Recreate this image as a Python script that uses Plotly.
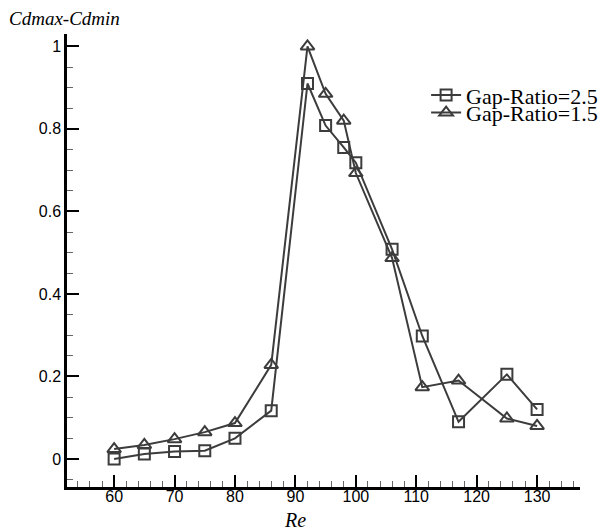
import plotly.graph_objects as go

re_vals = [60, 65, 70, 75, 80, 86, 92, 95, 98, 100, 106, 111, 117, 125, 130]
gap25 = [0.0, 0.012, 0.018, 0.02, 0.05, 0.117, 0.91, 0.808, 0.755, 0.718, 0.508, 0.298, 0.09, 0.205, 0.12]
gap15 = [0.024, 0.034, 0.048, 0.065, 0.087, 0.228, 1.0, 0.885, 0.82, 0.693, 0.487, 0.174, 0.19, 0.098, 0.08]
names = ["Gap-Ratio=2.5", "Gap-Ratio=1.5"]
x_ticks = [60, 70, 80, 90, 100, 110, 120, 130]
y_ticks = [0, 0.2, 0.4, 0.6, 0.8, 1]
y_tick_text = ["0", "0.2", "0.4", "0.6", "0.8", "1"]

col = "#3c3c3c"
fig = go.Figure()
fig.add_trace(go.Scatter(x=re_vals, y=gap25, name=names[0], mode="lines+markers", legend="legend",
                         line=dict(color=col, width=2),
                         marker=dict(symbol="square-open", size=11, color=col, line=dict(width=2))))
fig.add_trace(go.Scatter(x=re_vals, y=gap15, name=names[1], mode="lines+markers", legend="legend2",
                         line=dict(color=col, width=2),
                         marker=dict(symbol="triangle-up-open", size=12, color=col, line=dict(width=2))))

leg_font = dict(family="Liberation Serif", size=22, color="black")
fig.update_layout(
    width=608, height=531,
    margin=dict(l=67, r=28, t=34, b=44, autoexpand=False),
    plot_bgcolor="white", paper_bgcolor="white",
    showlegend=True,
    legend=dict(x=0.70, y=0.865, xanchor="left", yanchor="middle", font=leg_font,
                bgcolor="rgba(0,0,0,0)", borderwidth=0),
    legend2=dict(x=0.70, y=0.826, xanchor="left", yanchor="middle", font=leg_font,
                 bgcolor="rgba(0,0,0,0)", borderwidth=0),
    xaxis=dict(range=[52.2, 137.1], tickvals=x_ticks, showgrid=False, zeroline=False,
               showline=True, linecolor="black", linewidth=2.5,
               ticks="inside", ticklen=12, tickwidth=2, tickcolor="black",
               ticklabelstandoff=-7,
               minor=dict(dtick=2, tick0=60, ticks="inside", ticklen=6, tickwidth=1, tickcolor="#666"),
               tickfont=dict(family="Liberation Sans", size=16, color="black")),
    yaxis=dict(range=[-0.068, 1.03], tickvals=y_ticks, ticktext=y_tick_text, showgrid=False, zeroline=False,
               showline=True, linecolor="black", linewidth=2.5,
               ticks="inside", ticklen=12, tickwidth=2, tickcolor="black",
               minor=dict(dtick=0.05, tick0=0, ticks="inside", ticklen=6, tickwidth=1, tickcolor="#666"),
               tickfont=dict(family="Liberation Sans", size=16, color="black")),
    annotations=[
        dict(text="<i>Cdmax-Cdmin</i>", xref="paper", yref="paper", x=-0.117, y=1.035,
             xanchor="left", yanchor="middle", showarrow=False,
             font=dict(family="Liberation Serif", size=19, color="black")),
        dict(text="<i>Re</i>", xref="x", yref="paper", x=90, y=-0.073, xanchor="center", yanchor="middle",
             showarrow=False, font=dict(family="Liberation Serif", size=20, color="black")),
    ],
)
fig.write_html("out.html", post_script="document.body.style.margin='0';",
               config={"displayModeBar": False})
